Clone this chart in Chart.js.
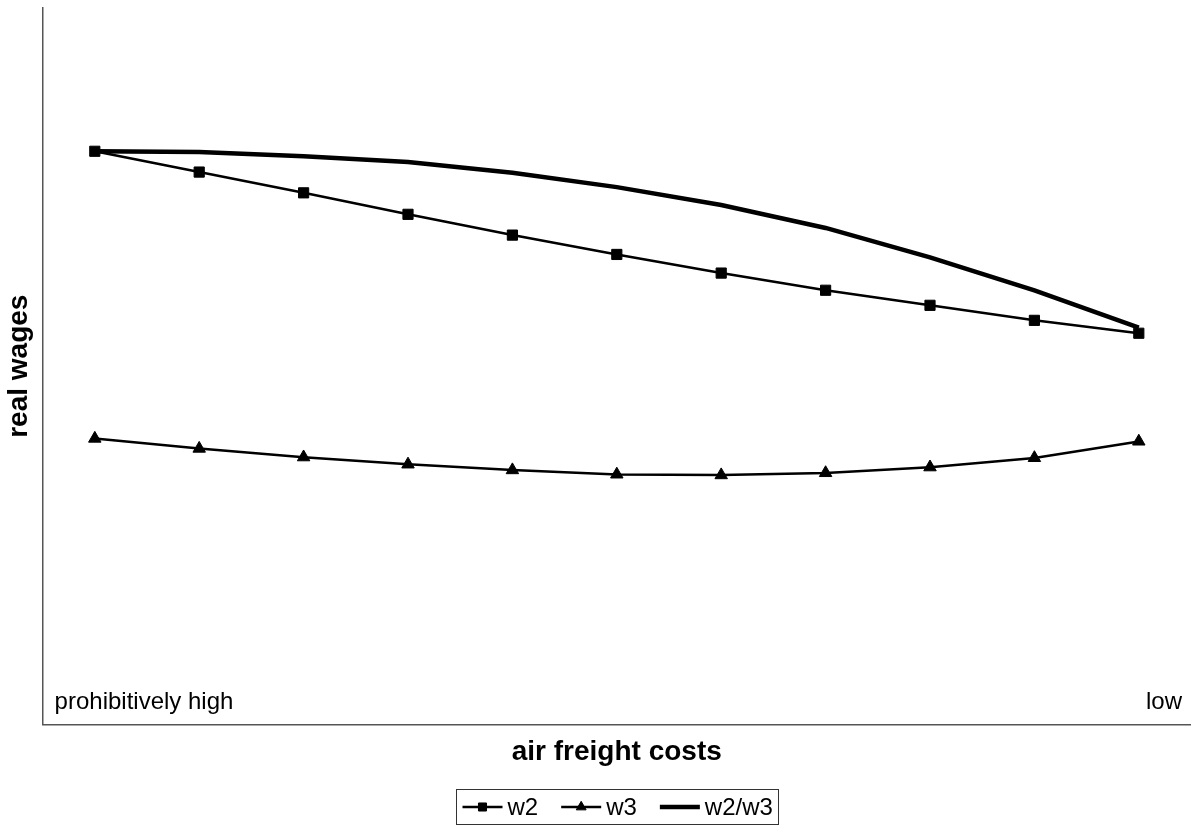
<!DOCTYPE html>
<html><head><meta charset="utf-8">
<script src="https://cdn.jsdelivr.net/npm/chart.js@4/dist/chart.umd.min.js"></script>
<style>html,body{margin:0;padding:0;background:#fff;overflow:hidden}#wrap{width:1191px;height:827px}</style>
</head><body><div id="wrap"><canvas id="c" width="1191" height="827"></canvas></div>
<script>
// air freight cost levels, from prohibitively high (left) to low (right)
const categories = ['1','2','3','4','5','6','7','8','9','10','11'];
const endLabels = ['prohibitively high', 'low'];
const seriesNames = ['w2', 'w3', 'w2/w3'];
const w2 = [80.0, 77.1, 74.2, 71.2, 68.3, 65.6, 63.0, 60.6, 58.5, 56.4, 54.6];
const w3 = [39.9, 38.5, 37.3, 36.3, 35.5, 34.9, 34.8, 35.1, 35.9, 37.2, 39.5];
const w2w3 = [80.0, 79.9, 79.3, 78.5, 77.0, 75.0, 72.5, 69.3, 65.2, 60.6, 55.4];
const axisTitles = { x: 'air freight costs', y: 'real wages' };

const FONT = 'Arial, "Liberation Sans", sans-serif';

const overlay = {
  id: 'overlay',
  afterDraw(chart) {
    const ctx = chart.ctx, a = chart.chartArea;
    ctx.save();
    ctx.fillStyle = '#000';
    ctx.font = '24px ' + FONT;
    ctx.textBaseline = 'alphabetic';
    ctx.textAlign = 'left';
    ctx.fillText(endLabels[0], a.left + 12, a.bottom - 15);
    ctx.textAlign = 'right';
    ctx.fillText(endLabels[1], a.right - 9, a.bottom - 15);

    // legend
    const iconW = 40, gap = 5, itemGap = 23, padX = 6;
    const ds = chart.data.datasets;
    ctx.font = '24px ' + FONT;
    const tw = ds.map(d => ctx.measureText(d.label).width);
    let total = 0;
    tw.forEach((w, i) => { total += iconW + gap + w + (i ? itemGap : 0); });
    const cx = (a.left + a.right) / 2;
    const boxL = Math.round(cx - total / 2 - padX) + 0.5;
    const boxW = Math.round(total + 2 * padX);
    const boxT = 789.5, boxH = 35;
    const cy = boxT + boxH / 2;
    ctx.strokeStyle = '#333';
    ctx.lineWidth = 1;
    ctx.strokeRect(boxL, boxT, boxW, boxH);
    let x = boxL + padX;
    ds.forEach((d, i) => {
      ctx.strokeStyle = '#000';
      ctx.lineWidth = d.borderWidth;
      ctx.beginPath();
      ctx.moveTo(x, cy);
      ctx.lineTo(x + iconW, cy);
      ctx.stroke();
      if (d.pointRadius > 0) {
        ctx.fillStyle = '#000';
        ctx.strokeStyle = '#000';
        ctx.lineWidth = d.pointBorderWidth;
        Chart.helpers.drawPoint(ctx, { pointStyle: d.pointStyle, radius: d.pointRadius - 1.5, rotation: 0, borderWidth: d.pointBorderWidth }, x + iconW / 2, cy);
      }
      ctx.fillStyle = '#000';
      ctx.textAlign = 'left';
      ctx.textBaseline = 'middle';
      ctx.fillText(d.label, x + iconW + gap, cy + 1);
      x += iconW + gap + tw[i] + itemGap;
    });
    ctx.restore();
  }
};

new Chart(document.getElementById('c'), {
  type: 'line',
  data: {
    labels: categories,
    datasets: [
      { label: seriesNames[0], data: w2, borderColor: '#000', backgroundColor: '#000', borderWidth: 2.5,
        pointStyle: 'rect', pointRadius: 7.2, pointBackgroundColor: '#000', pointBorderColor: '#000', pointBorderWidth: 1, tension: 0 },
      { label: seriesNames[1], data: w3, borderColor: '#000', backgroundColor: '#000', borderWidth: 2.5,
        pointStyle: 'triangle', pointRadius: 7.2, pointBackgroundColor: '#000', pointBorderColor: '#000', pointBorderWidth: 1, tension: 0 },
      { label: seriesNames[2], data: w2w3, borderColor: '#000', backgroundColor: '#000', borderWidth: 4.5,
        pointRadius: 0, pointBorderWidth: 0, tension: 0 }
    ]
  },
  options: {
    responsive: false,
    animation: false,
    devicePixelRatio: 1,
    layout: { autoPadding: false, padding: { left: 0, top: 8, right: 0, bottom: 54 } },
    plugins: { legend: { display: false }, tooltip: { enabled: false } },
    scales: {
      x: {
        type: 'category', offset: true,
        ticks: { display: false },
        grid: { display: false, drawTicks: false },
        border: { display: true, color: '#555', width: 1.5 },
        title: { display: true, text: axisTitles.x, color: '#000', font: { family: FONT, size: 28, weight: 'bold' }, padding: { top: 11, bottom: 4 } }
      },
      y: {
        min: 0, max: 100,
        ticks: { display: false },
        grid: { display: false, drawTicks: false },
        border: { display: true, color: '#555', width: 1.5 },
        title: { display: true, text: axisTitles.y, color: '#000', font: { family: FONT, size: 28, weight: 'bold' }, padding: { top: 2, bottom: 7 } }
      }
    }
  },
  plugins: [overlay]
});
</script>
</body></html>
